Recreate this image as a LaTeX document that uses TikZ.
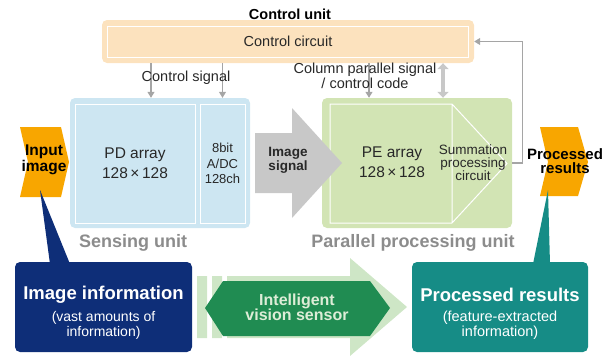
\documentclass[tikz,border=0pt]{standalone}
\usepackage{fontspec}
\setmainfont{Liberation Sans}
\usetikzlibrary{arrows.meta}

\definecolor{ctrlfill}{RGB}{252,226,190}
\definecolor{sensefill}{RGB}{205,230,242}
\definecolor{pefill}{RGB}{210,228,180}
\definecolor{siggrey}{RGB}{165,165,165}
\definecolor{imggrey}{RGB}{200,200,200}
\definecolor{chevron}{RGB}{248,166,0}
\definecolor{navy}{RGB}{14,46,120}
\definecolor{teal}{RGB}{22,140,134}
\definecolor{darkgreen}{RGB}{32,140,82}
\definecolor{palegreen}{RGB}{206,230,198}
\definecolor{labgrey}{RGB}{140,140,140}
\definecolor{darktxt}{RGB}{40,40,40}

\begin{document}
\begin{tikzpicture}[x=1pt, y=-1pt,
    unit/.style={rounded corners=5pt, inner sep=0pt},
    frame/.style={draw=white, line width=1pt, inner sep=0pt},
    txt/.style={text=darktxt, align=center, font=\fontsize{14.5}{15}\selectfont},
    big/.style={align=center, font=\bfseries\fontsize{18.5}{20}\selectfont},
    small/.style={align=center, font=\fontsize{14}{15}\selectfont},
    sig/.style={draw=siggrey, line width=1.2pt, -{Triangle[length=6pt,width=7pt]}},
    dbl/.style={draw=imggrey, line width=4pt, {Triangle[length=6pt,width=11pt]}-{Triangle[length=6pt,width=11pt]}}]
    \useasboundingbox (0,0) rectangle (608,356);

    \node[unit, fill=ctrlfill, minimum width=372pt, minimum height=43pt] (ctrlunit) at (288,41.5) {};
    \node[frame, txt, minimum width=361pt, minimum height=31pt] (ctrl) at (288,41.5) {Control circuit};
    \node[text=black, font=\bfseries\fontsize{14.5}{15}\selectfont] (ctrltitle) at (290,14) {Control unit};

    \node[unit, fill=sensefill, minimum width=180pt, minimum height=130pt] (sense) at (160,163) {};
    \node[frame, txt, minimum width=120pt, minimum height=119pt, font=\fontsize{15.5}{20}\selectfont] (pd) at (135,163.5) {PD array\\128\,×\,128};
    \node[frame, txt, minimum width=45pt, minimum height=119pt, font=\fontsize{13}{15.5}\selectfont] (adc) at (222.5,163.5) {8bit\\A/DC\\128ch};
    \node[big, text=labgrey, font=\bfseries\fontsize{18}{20}\selectfont] (senselbl) at (133,243) {Sensing unit};

    \node[unit, fill=pefill, minimum width=190pt, minimum height=130pt] (pe) at (417,163) {};
    \draw[white, line width=1pt] (330,104) -- (452,104) -- (507,163.5) -- (452,223) -- (330,223) -- cycle (452,104) -- (452,223);
    \node[txt, font=\fontsize{15.5}{20}\selectfont] (pearr) at (392,162) {PE array\\128\,×\,128};
    \node[txt, font=\fontsize{13.5}{13}\selectfont] (summ) at (473,163) {Summation\\processing\\circuit};
    \node[big, text=labgrey, font=\bfseries\fontsize{18}{20}\selectfont] (pelbl) at (413,243) {Parallel processing unit};

    \draw[sig] (ctrlunit.south -| 151,0) -- (sense.north -| 151,0);
    \draw[sig] (ctrlunit.south -| 222.5,0) -- (sense.north -| 222.5,0);
    \node[txt] (ctrlsig) at (186,78) {Control signal};
    \draw[sig] (ctrlunit.south -| 369,0) -- (pe.north -| 369,0);
    \draw[dbl] (ctrlunit.south -| 443,0) -- (pe.north -| 443,0);
    \node[txt, font=\fontsize{14.5}{12}\selectfont] (colsig) at (365,76) {Column parallel signal\\/ control code};
    \draw[sig] (pe.east) -- ++(10,0) |- (ctrlunit.east);

    \fill[imggrey] (255,133) -- (292,133) -- (292,108) -- (342,163) -- (292,218) -- (292,193) -- (255,193) -- cycle;
    \node[txt, font=\bfseries\fontsize{13.5}{14}\selectfont] (imgsig) at (288,160) {Image\\signal};

    \fill[chevron] (20,127) -- (61,127) -- (69,162) -- (61,197) -- (20,197) -- (28,162) -- cycle;
    \node[text=black, align=center, font=\bfseries\fontsize{15.5}{14}\selectfont] (inimg) at (44,160) {Input\\image};
    \fill[chevron] (540,127) -- (578,127) -- (588,162) -- (578,196) -- (540,196) -- (548,162) -- cycle;
    \node[text=black, align=center, font=\bfseries\fontsize{15}{14}\selectfont] (procres) at (565,161) {Processed\\results};

    \fill[navy] (40,190) -- (50,264) -- (70,264) -- cycle;
    \fill[teal] (548,190) -- (533,264) -- (550,264) -- cycle;

    \node[unit, fill=navy, minimum width=177pt, minimum height=90pt] (imginfo) at (103.5,307) {};
    \node[big, text=white] (imginfot) at (103.5,295) {Image information};
    \node[small, text=white] (imginfos) at (103.5,325.5) {(vast amounts of\\information)};
    \node[unit, fill=teal, minimum width=176pt, minimum height=90pt] (procbox) at (500,307) {};
    \node[big, text=white] (procboxt) at (500,295) {Processed results};
    \node[small, text=white, font=\fontsize{14.5}{15}\selectfont] (procboxs) at (500,325.5) {(feature-extracted\\information)};

    \fill[palegreen] (197,276) rectangle (207,338) (212,276) rectangle (222,338);
    \fill[palegreen] (227,276) -- (350,276) -- (350,258) -- (407,307) -- (350,356) -- (350,338) -- (227,338) -- cycle;
    \fill[darkgreen] (205,308) -- (223,281) -- (370,281) -- (390,308) -- (370,336) -- (223,336) -- cycle;
    \node[align=center, text=palegreen!70!white, font=\bfseries\fontsize{16}{15.5}\selectfont] (ivs) at (297,307.5) {Intelligent\\vision sensor};
\end{tikzpicture}
\end{document}
